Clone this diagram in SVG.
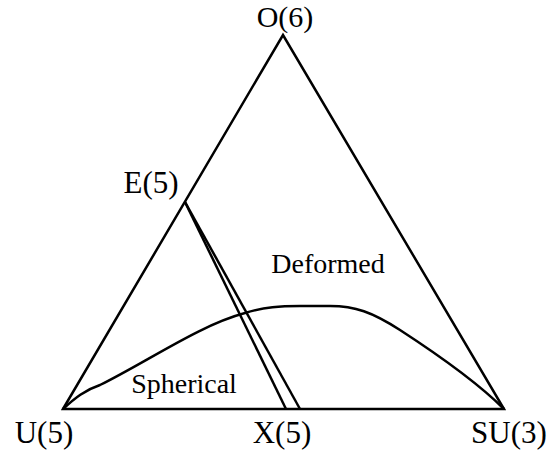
<svg xmlns="http://www.w3.org/2000/svg" width="550" height="456" viewBox="0 0 550 456">
<style>
.ln{fill:none;stroke:#000;stroke-width:2.5;stroke-linejoin:miter}
</style>
<rect width="550" height="456" fill="#fff"/>
<g id="connectors">
<path class="ln" d="M63,409 L283,35 L504,409 Z"/>
<path class="ln" d="M185,202 L286,409"/>
<path class="ln" d="M185,202 L300,409"/>
<path class="ln" d="M63,409 C75,398 85,390 100,385 C150,360 200,325 245,313 C265,307 280,306 300,306 L330,306 C355,306 372,312 400,330 C440,356 480,385 504,409"/>
</g>
<g font-family="Liberation Serif, Times New Roman, serif" fill="#000">
<g id="O6"><text font-size="30" x="285" y="27" text-anchor="middle">O(6)</text></g>
<g id="E5"><text font-size="31" x="151" y="193" text-anchor="middle">E(5)</text></g>
<g id="U5"><text font-size="31" x="44" y="443" text-anchor="middle">U(5)</text></g>
<g id="X5"><text font-size="31" x="282" y="443" text-anchor="middle">X(5)</text></g>
<g id="SU3"><text font-size="31" x="509" y="443" text-anchor="middle">SU(3)</text></g>
<g id="deformed"><text font-size="28" x="328" y="273" text-anchor="middle">Deformed</text></g>
<g id="spherical"><text font-size="28" x="184" y="393" text-anchor="middle">Spherical</text></g>
</g>
</svg>
